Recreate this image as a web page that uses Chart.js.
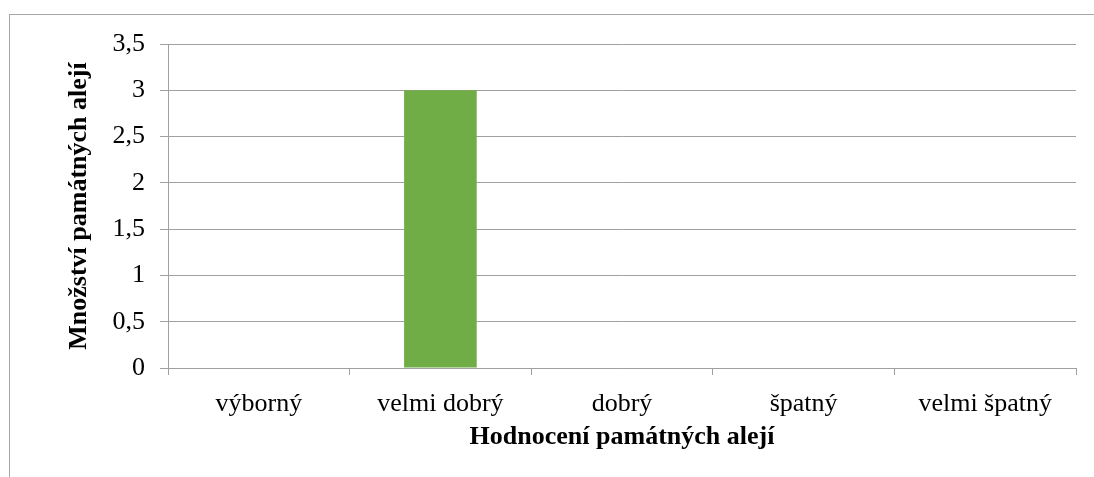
<!DOCTYPE html>
<html>
<head>
<meta charset="utf-8">
<script src="https://cdn.jsdelivr.net/npm/chart.js@4"></script>
<style>
html,body{margin:0;padding:0;background:#fff;overflow:hidden;}
#frame{position:absolute;left:9px;top:14px;width:3000px;height:3000px;border-top:1px solid #a6a6a6;border-left:1px solid #a6a6a6;box-sizing:border-box;}
#c{position:absolute;left:0;top:0;}
</style>
</head>
<body>
<div id="frame"></div>
<canvas id="c" width="1094" height="477"></canvas>
<script>
const categories = ['výborný', 'velmi dobrý', 'dobrý', 'špatný', 'velmi špatný'];
const values = [0, 3, 0, 0, 0];
const yTitle = 'Množství památných alejí';
const xTitle = 'Hodnocení památných alejí';
const yMax = 3.5;
const yStep = 0.5;

const FONT = 'Liberation Serif, "Times New Roman", serif';
const GRID = '#a0a0a0';

new Chart(document.getElementById('c'), {
  type: 'bar',
  data: {
    labels: categories,
    datasets: [{
      data: values,
      backgroundColor: '#70ad47',
      borderWidth: 0,
      barPercentage: 0.4,
      categoryPercentage: 1
    }]
  },
  options: {
    responsive: false,
    animation: false,
    layout: { padding: { left: 0, top: 44, right: 18, bottom: 0 } },
    plugins: { legend: { display: false }, tooltip: { enabled: false } },
    scales: {
      x: {
        grid: { offset: true, drawOnChartArea: false, drawTicks: true, tickLength: 7, color: GRID },
        border: { display: true, color: GRID, width: 1 },
        ticks: { color: '#000', font: { family: FONT, size: 26 }, padding: 14, maxRotation: 0, autoSkip: false },
        title: { display: true, text: xTitle, color: '#000', font: { family: FONT, size: 26, weight: 'bold' }, padding: { top: 0, bottom: 24 } },
        afterFit: s => { s.height = 109; }
      },
      y: {
        min: 0,
        max: yMax,
        grid: { color: GRID, tickLength: 8, drawTicks: true },
        border: { display: true, color: GRID, width: 1 },
        ticks: {
          stepSize: yStep,
          color: '#000',
          font: { family: FONT, size: 26 },
          padding: 15,
          callback: v => String(v).replace('.', ',')
        },
        title: { display: true, text: yTitle, color: '#000', font: { family: FONT, size: 26, weight: 'bold' }, padding: { top: 64, bottom: 0 } },
        afterFit: s => { s.width = 168; }
      }
    }
  }
});
</script>
</body>
</html>
